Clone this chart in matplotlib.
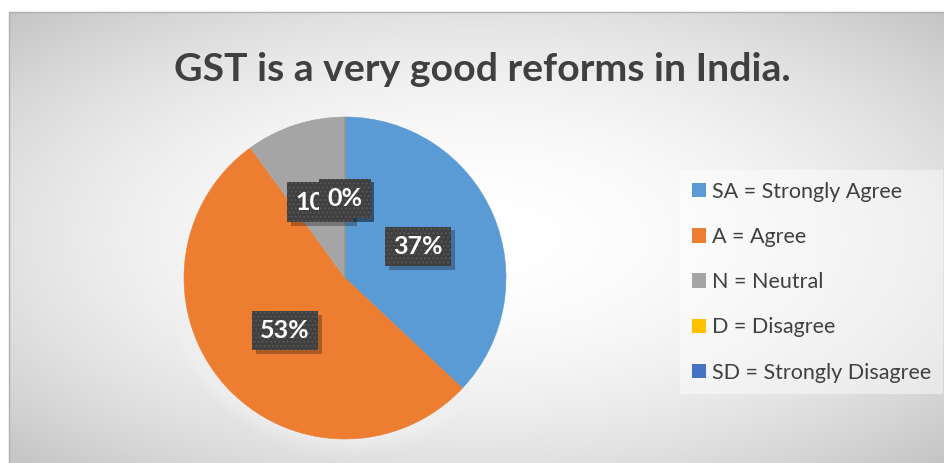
import numpy as np
import matplotlib.pyplot as plt
from matplotlib.patches import Rectangle, Circle

# Survey responses
categories = ["SA = Strongly Agree", "A = Agree", "N = Neutral",
              "D = Disagree", "SD = Strongly Disagree"]
values = [37, 53, 10, 0, 0]
colors = ["#5B9BD5", "#ED7D31", "#A5A5A5", "#FFC000", "#4472C4"]
title = "GST is a very good reforms in India."

W, H = 944, 463
FONT = "Lato"
TEXT_COLOR = "#404040"

fig = plt.figure(figsize=(W / 100, H / 100), dpi=100)
fig.patch.set_facecolor("white")

# Chart area with a soft radial gradient fill
bg = fig.add_axes([0, 0, 1, 1])
bg.set_xlim(0, W)
bg.set_ylim(H, 0)
bg.axis("off")
x0, y0 = 9, 12
xs = np.linspace(x0, W, 472)
ys = np.linspace(y0, H, 226)
X, Y = np.meshgrid(xs, ys)
cx, cy = (x0 + W) / 2, (y0 + H) / 2
a, b = (W - x0) / 2, (H - y0) / 2
d2 = ((X - cx) / a) ** 2 + ((Y - cy) / b) ** 2
v = np.clip(1 - 0.115 * d2, 0, 1)
bg.imshow(np.dstack([v, v, v]), extent=[x0, W, H, y0], aspect="auto",
          interpolation="bilinear", zorder=0)
bg.plot([x0, x0, W], [H, y0, y0], color="#b0b0b0", lw=1, zorder=1)

# Pie
pcx, pcy, R = 345, 278, 161
LIM = 1.15
pax = fig.add_axes([(pcx - R * LIM) / W, (H - pcy - R * LIM) / H,
                    2 * R * LIM / W, 2 * R * LIM / H])
pax.axis("off")

# faint halo behind the pie
for r in np.linspace(1.11, 1.0, 8):
    pax.add_patch(Circle((0, 0), r, facecolor="white", alpha=0.06,
                         edgecolor="none", zorder=0.5))

wedges, texts, autotexts = pax.pie(
    values, colors=colors, startangle=90, counterclock=False, radius=1,
    autopct=lambda p: f"{p:.0f}%", pctdistance=0.495,
    wedgeprops=dict(linewidth=0.4, edgecolor="none"),
)
for w in wedges:
    w.set_edgecolor(w.get_facecolor())
    w.set_zorder(1)
pax.set_xlim(-LIM, LIM)
pax.set_ylim(-LIM, LIM)

label_kw = dict(fontfamily=FONT, fontweight="bold", fontsize=18)
box_style = "square,pad=0.33"
for t in autotexts:
    t.set(color="white", zorder=4, **label_kw)
    t.set_bbox(dict(boxstyle=box_style, facecolor="#3f3f3f",
                    edgecolor="#565656", hatch="....", linewidth=0))
    # drop shadow under each label box
    pax.annotate(t.get_text(), xy=t.get_position(), xytext=(2.6, -2.6),
                 textcoords="offset points", ha="center", va="center",
                 color="none", zorder=3, **label_kw,
                 bbox=dict(boxstyle=box_style, facecolor=(0, 0, 0, 0.28),
                           edgecolor="none"))

# Legend
handles = [Rectangle((0, 0), 1, 1, facecolor=c, edgecolor="none") for c in colors]
leg = fig.legend(handles, categories, loc="upper left",
                 bbox_to_anchor=(680 / W, 1 - 170 / H),
                 prop=dict(family=FONT, size=15.5), labelcolor=TEXT_COLOR,
                 handlelength=0.65, handleheight=0.65, handletextpad=0.3,
                 labelspacing=1.17, borderpad=0.55, borderaxespad=0,
                 frameon=True, fancybox=False)
leg.get_frame().set_facecolor("white")
leg.get_frame().set_alpha(0.45)
leg.get_frame().set_edgecolor("none")

# Title
fig.text(482 / W, 1 - 81 / H, title, ha="center", va="baseline",
         fontsize=28.3, fontweight="bold", fontfamily=FONT, color=TEXT_COLOR)

fig.savefig("out.png", dpi=100)
